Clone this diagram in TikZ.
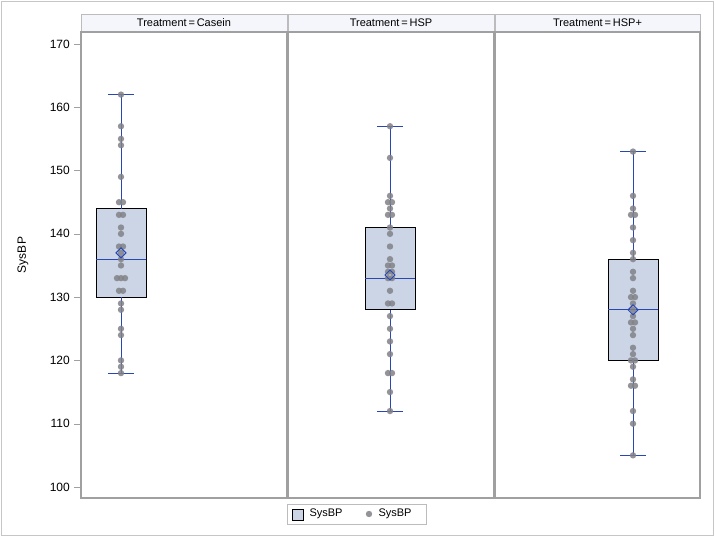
\documentclass[tikz,border=0pt]{standalone}
\usepackage{fontspec}
\setmainfont{Liberation Sans}
\usepackage{tikz}
\usetikzlibrary{calc}
\definecolor{boxfill}{RGB}{203,213,230}
\definecolor{medblue}{RGB}{40,70,180}
\definecolor{dotgray}{RGB}{130,130,135}
\definecolor{hdrfill}{RGB}{244,246,252}
\definecolor{frameg}{RGB}{160,160,160}
\tikzset{
  dotp/.style={fill=dotgray,draw=none,opacity=0.85},
  boxp/.style={fill=boxfill,draw=black,line width=0.9pt},
  whisk/.style={draw=medblue,line width=1pt},
  meanp/.style={draw=medblue,line width=1pt,fill=none},
  tickl/.style={font=\fontsize{12}{14}\selectfont,anchor=east,inner sep=1pt}
}
% value to pixel row
\newcommand{\yv}[1]{487-(#1-100)*6.329}
\begin{document}
\begin{tikzpicture}[x=1pt,y=-1pt]
  \useasboundingbox (0,0) rectangle (715,537);
  \draw[frameg!60,fill=white] (1,1) rectangle (713,535);

  % panels and headers
  \foreach \xa/\xb/\lab in {81/287/Casein,288/494/HSP,495/700/HSP+}
  {
    \draw[frameg!70,fill=hdrfill] (\xa,14) rectangle (\xb,32);
    \node[font=\fontsize{11}{13}\selectfont] at ({(\xa+\xb)/2},23) {Treatment\,=\,\lab};
    \draw[frameg,line width=1.2pt] (\xa,32) rectangle (\xb,498);
  }

  % y axis
  \foreach \v in {100,110,...,170}
  {
    \draw[frameg] (74,{\yv{\v}}) -- (80,{\yv{\v}});
    \node[tickl] at (71,{\yv{\v}}) {\v};
  }
  \node[rotate=90,font=\fontsize{12}{14}\selectfont] (ylab) at (23,255) {SysBP};

  % boxes: centre / min / q1 / median / q3 / max
  \foreach \c/\lo/\qa/\md/\qc/\hi in {121/118/130/136/144/162,390/112/128/133/141/157,633/105/120/128/136/153}
  {
    \draw[boxp] (\c-25,{\yv{\qa}}) rectangle (\c+25,{\yv{\qc}});
    \draw[whisk] (\c-13,{\yv{\lo}}) -- (\c+13,{\yv{\lo}});
    \draw[whisk] (\c-13,{\yv{\hi}}) -- (\c+13,{\yv{\hi}});
    \draw[whisk] (\c,{\yv{\lo}}) -- (\c,{\yv{\qa}});
    \draw[whisk] (\c,{\yv{\qc}}) -- (\c,{\yv{\hi}});
    \draw[medblue,line width=1pt] (\c-25,{\yv{\md}}) -- (\c+25,{\yv{\md}});
  }

  % observations
  \foreach \v/\o in {162/0,157/0,155/0,154/0,149/0,145/-2,145/2,143/-2,143/2,141/0,140/0,138/-2,138/2,137/0,136/0,135/0,133/-4,133/0,133/4,131/-2,131/2,129/0,128/0,125/0,124/0,120/0,119/0,118/0}
    \fill[dotp] (121+\o,{\yv{\v}}) circle (3.2);
  \foreach \v/\o in {157/0,152/0,146/0,145/-2,145/2,144/0,143/-2,143/2,141/0,140/0,138/0,136/0,135/-2,135/2,134/-2,134/2,133/-2,133/2,131/0,129/-2,129/2,127/0,125/0,123/0,121/0,118/-2,118/2,115/0,112/0}
    \fill[dotp] (390+\o,{\yv{\v}}) circle (3.2);
  \foreach \v/\o in {153/0,146/0,144/0,143/-2,143/2,141/0,139/0,137/0,136/0,134/0,133/0,131/0,130/-2,130/2,129/0,128/0,127/0,126/-2,126/2,125/0,124/0,122/0,121/0,120/-2,120/2,119/0,117/0,116/-2,116/2,112/0,110/0,105/0}
    \fill[dotp] (633+\o,{\yv{\v}}) circle (3.2);

  % means
  \foreach \c/\mn in {121/137,390/133.5,633/128}
    \draw[meanp] (\c,{\yv{\mn}-5}) -- (\c+5,{\yv{\mn}}) -- (\c,{\yv{\mn}+5}) -- (\c-5,{\yv{\mn}}) -- cycle;

  % legend
  \draw[frameg!70] (287,504) rectangle (426,524);
  \draw[boxp,line width=0.6pt] (292,509) rectangle (303,520);
  \node[anchor=west,font=\fontsize{11}{13}\selectfont] (leg1) at (306,514) {SysBP};
  \fill[dotp] (369,514) circle (3.2);
  \node[anchor=west,font=\fontsize{11}{13}\selectfont] (leg2) at (375,514) {SysBP};
\end{tikzpicture}
\end{document}
